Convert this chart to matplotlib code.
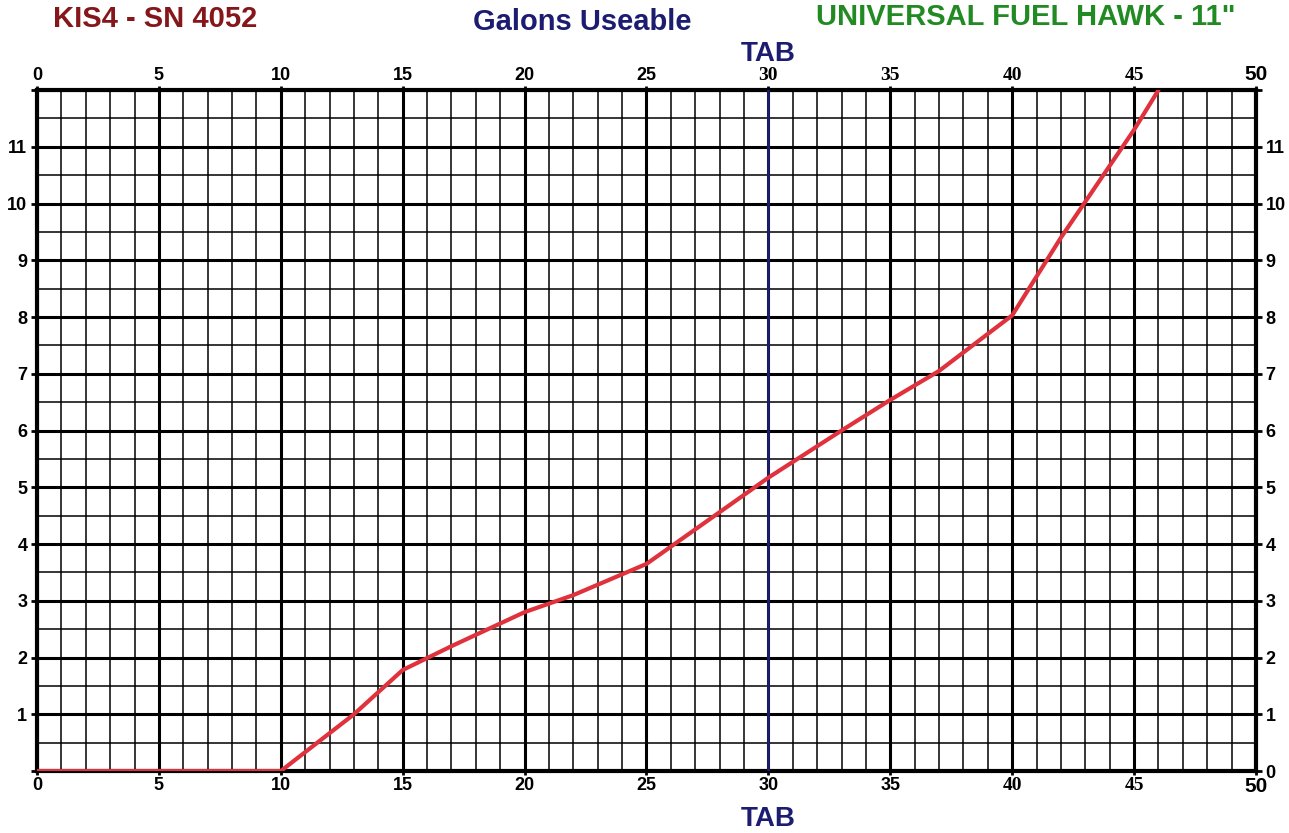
import matplotlib.pyplot as plt
from matplotlib.ticker import MultipleLocator

# fuel level curve: tab reading (x) vs gallons useable (y)
tab = [0, 10, 13, 15, 17, 20, 22, 25, 30, 33, 35, 37, 40, 42, 45, 46]
gallons = [0, 0, 1.0, 1.78, 2.2, 2.8, 3.1, 3.65, 5.17, 6.0, 6.54, 7.05, 8.03, 9.4, 11.3, 12.0]

x_ticks = [0, 5, 10, 15, 20, 25, 30, 35, 40, 45, 50]
left_labels = ['', '1', '2', '3', '4', '5', '6', '7', '8', '9', '10', '11', '']
right_labels = ['0', '1', '2', '3', '4', '5', '6', '7', '8', '9', '10', '11', '']
tab_mark = 30

serif_top = [30, 35, 40, 45]
serif_bottom = [40, 45]

fig = plt.figure(figsize=(12.89, 8.33), dpi=100)
ax = fig.add_axes([0.0287, 0.0744, 0.9457, 0.8175])
ax.set_xlim(0, 50)
ax.set_ylim(0, 12)

# grid paper
ax.xaxis.set_minor_locator(MultipleLocator(1))
ax.yaxis.set_minor_locator(MultipleLocator(0.5))
ax.set_xticks(x_ticks, labels=[str(v) for v in x_ticks])
ax.set_yticks(range(13), labels=left_labels)
ax.grid(which='minor', color='black', lw=1.1)
ax.grid(which='major', color='black', lw=2.2)
ax.set_axisbelow(True)
for s in ax.spines.values():
    s.set_linewidth(3)

ax.axvline(tab_mark, color='#1c1c70', lw=2.0, zorder=3)
ax.plot(tab, gallons, color='#e0323c', lw=3, zorder=4, solid_capstyle='round')

ax.tick_params(which='minor', length=0)
ax.tick_params(which='major', length=4, width=2, labelsize=13)
ax.tick_params(axis='x', top=True, labeltop=True, length=3, pad=1.5)
ax.tick_params(axis='y', pad=3)

for t, v in zip(ax.xaxis.get_major_ticks(), x_ticks):
    for lab, serif in ((t.label1, v in serif_bottom), (t.label2, v in serif_top)):
        if serif:
            lab.set_fontfamily('Liberation Serif')
            lab.set_fontweight('bold')
            lab.set_fontsize(14)
        else:
            lab.set_fontfamily('Liberation Sans')
            lab.set_fontweight('bold')
        if v == 50:
            lab.set_fontsize(15)
for lab in ax.get_yticklabels():
    lab.set_fontfamily('Liberation Sans')
    lab.set_fontweight('bold')

axr = ax.twinx()
axr.set_ylim(0, 12)
axr.set_yticks(range(13), labels=right_labels)
axr.tick_params(length=4, width=2, labelsize=13, pad=3)
for lab in axr.get_yticklabels():
    lab.set_fontfamily('Liberation Sans')
    lab.set_fontweight('bold')
for s in axr.spines.values():
    s.set_visible(False)

# titles
fig.text(0.120, 0.967, 'KIS4 - SN 4052', color='#85161a', fontsize=21,
         fontweight='bold', family='Liberation Sans', ha='center', va='baseline')
fig.text(0.452, 0.964, 'Galons Useable', color='#1c1c70', fontsize=21,
         fontweight='bold', family='Liberation Sans', ha='center', va='baseline')
fig.text(0.796, 0.970, 'UNIVERSAL FUEL HAWK - 11"', color='#228a22', fontsize=21,
         fontweight='bold', family='Liberation Sans', ha='center', va='baseline')
ax.text(tab_mark, 1.043, 'TAB', transform=ax.get_xaxis_transform(), color='#1c1c70',
        fontsize=20, fontweight='bold', family='Liberation Sans',
        ha='center', va='baseline')
ax.text(tab_mark, -0.080, 'TAB', transform=ax.get_xaxis_transform(), color='#1c1c70',
        fontsize=20, fontweight='bold', family='Liberation Sans',
        ha='center', va='baseline')

fig.savefig('out.png', dpi=100)
